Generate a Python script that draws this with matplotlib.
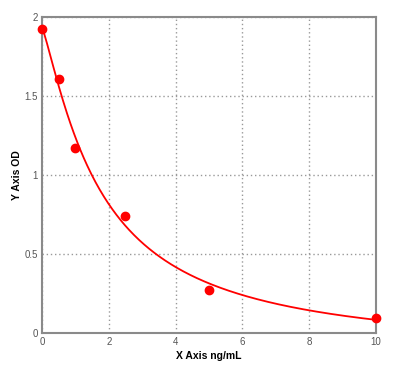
import numpy as np
import matplotlib
matplotlib.use("Agg")
import matplotlib.pyplot as plt

conc = [0.0, 0.5, 1.0, 2.5, 5.0, 10.0]
od = [1.924, 1.608, 1.171, 0.740, 0.272, 0.095]
x_ticks = [0, 2, 4, 6, 8, 10]
y_ticks = [0, 0.5, 1, 1.5, 2]
y_tick_labels = ["0", "0.5", "1", "1.5", "2"]

x = np.array(conc)
y = np.array(od)

# 4-parameter logistic fit via simple Levenberg-Marquardt
def model(p, xx):
    a, b, c, d = p
    return d + (a - d) / (1.0 + (np.maximum(xx, 0) / c) ** b)

p = np.array([1.95, 1.3, 1.5, 0.0])
lam = 1e-2
def resid(p):
    return model(p, x) - y
for _ in range(500):
    r = resid(p)
    J = np.zeros((len(x), 4))
    for i in range(4):
        dp = np.zeros(4); dp[i] = 1e-6 * max(1.0, abs(p[i]))
        J[:, i] = (model(p + dp, x) - model(p, x)) / dp[i]
    A = J.T @ J
    g = J.T @ r
    step = np.linalg.solve(A + lam * np.diag(np.diag(A) + 1e-9), -g)
    pn = p + step
    if pn[2] > 0 and np.sum(resid(pn) ** 2) < np.sum(r ** 2):
        p = pn; lam *= 0.5
    else:
        lam *= 4

xs = np.linspace(0, 10, 400)
ys = model(p, xs)

plt.rcParams['font.family'] = ['Liberation Sans', 'DejaVu Sans']
fig = plt.figure(figsize=(4.10, 3.72), dpi=100)
ax = fig.add_axes([0.1024, 0.1048, 0.8146, 0.8494])
ax.plot(xs, ys, color="#ff0000", lw=1.3, zorder=3)
ax.plot(x, y, "o", color="#ff0000", ms=6, zorder=4, clip_on=False)
ax.set_xlim(0, 10)
ax.set_ylim(0, 2)
ax.set_xticks(x_ticks)
ax.set_yticks(y_ticks)
ax.set_yticklabels(y_tick_labels)
ax.grid(True, linestyle=(0, (1.0, 2.0)), color="#999999", lw=1.0)
for s in ax.spines.values():
    s.set_color("#8a8a8a")
    s.set_linewidth(1.5)
ax.tick_params(length=0, labelsize=7, colors="#555555", pad=3)
ax.set_xlabel("X Axis ng/mL", fontsize=7.5, fontweight="bold", labelpad=3)
ax.set_ylabel("Y Axis OD", fontsize=7.5, fontweight="bold", labelpad=2)
fig.savefig("out.png", dpi=100)
